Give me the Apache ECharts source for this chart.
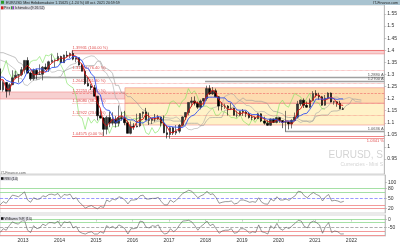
<!DOCTYPE html>
<html><head><meta charset="utf-8">
<script src="https://cdn.jsdelivr.net/npm/echarts@6/dist/echarts.min.js"></script>
<style>html,body{margin:0;padding:0;background:#fff}#c{width:400px;height:243px}</style>
</head><body><div id="c"></div>
<script>
const months = ("2012-05 2012-06 2012-07 2012-08 2012-09 2012-10 2012-11 2012-12 " +
"2013-01 2013-02 2013-03 2013-04 2013-05 2013-06 2013-07 2013-08 2013-09 2013-10 2013-11 2013-12 " +
"2014-01 2014-02 2014-03 2014-04 2014-05 2014-06 2014-07 2014-08 2014-09 2014-10 2014-11 2014-12 " +
"2015-01 2015-02 2015-03 2015-04 2015-05 2015-06 2015-07 2015-08 2015-09 2015-10 2015-11 2015-12 " +
"2016-01 2016-02 2016-03 2016-04 2016-05 2016-06 2016-07 2016-08 2016-09 2016-10 2016-11 2016-12 " +
"2017-01 2017-02 2017-03 2017-04 2017-05 2017-06 2017-07 2017-08 2017-09 2017-10 2017-11 2017-12 " +
"2018-01 2018-02 2018-03 2018-04 2018-05 2018-06 2018-07 2018-08 2018-09 2018-10 2018-11 2018-12 " +
"2019-01 2019-02 2019-03 2019-04 2019-05 2019-06 2019-07 2019-08 2019-09 2019-10 2019-11 2019-12 " +
"2020-01 2020-02 2020-03 2020-04 2020-05 2020-06 2020-07 2020-08 2020-09 2020-10 2020-11 2020-12 " +
"2021-01 2021-02 2021-03 2021-04 2021-05 2021-06 2021-07 2021-08 2021-09 2021-10").split(" ");
const futureMonths = ["2021-11","2021-12","2022-01","2022-02","2022-03","2022-04"];

const open = [1.3235,1.2365,1.2665,1.2302,1.2577,1.2860,1.2970,1.2990,
1.3194,1.3580,1.3056,1.2818,1.3169,1.2998,1.3010,1.3302,1.3222,1.3524,1.3584,1.3590,
1.3743,1.3484,1.3802,1.3770,1.3868,1.3633,1.3692,1.3389,1.3131,1.2630,1.2524,1.2450,
1.2100,1.1291,1.1196,1.0731,1.1224,1.0986,1.1147,1.0985,1.1213,1.1176,1.1004,1.0565,
1.0862,1.0831,1.0872,1.1380,1.1451,1.1131,1.1103,1.1173,1.1157,1.1240,1.0983,1.0590,
1.0517,1.0799,1.0575,1.0652,1.0895,1.1242,1.1426,1.1842,1.1906,1.1814,1.1646,1.1902,
1.2005,1.2414,1.2194,1.2324,1.2076,1.1693,1.1683,1.1690,1.1601,1.1604,1.1312,1.1317,
1.1467,1.1444,1.1372,1.1217,1.1215,1.1168,1.1371,1.1076,1.0986,1.0899,1.1152,1.1016,
1.1213,1.1093,1.1027,1.1031,1.0955,1.1100,1.1234,1.1778,1.1938,1.1722,1.1646,1.1927,
1.2216,1.2136,1.2074,1.1729,1.2020,1.2228,1.1858,1.1868,1.1809,1.1580];
const high = [1.3283,1.2748,1.2691,1.2637,1.3172,1.3140,1.3013,1.3308,
1.3586,1.3711,1.3120,1.3243,1.3242,1.3416,1.3346,1.3452,1.3569,1.3832,1.3620,1.3893,
1.3775,1.3824,1.3967,1.3906,1.3993,1.3700,1.3700,1.3444,1.3221,1.2887,1.2600,1.2570,
1.2110,1.1534,1.1243,1.1290,1.1466,1.1436,1.1278,1.1714,1.1460,1.1495,1.1096,1.1059,
1.0986,1.1376,1.1400,1.1464,1.1616,1.1428,1.1186,1.1366,1.1327,1.1255,1.1300,1.0874,
1.0829,1.0829,1.0906,1.0951,1.1268,1.1445,1.1846,1.2070,1.2092,1.1880,1.1961,1.2023,
1.2536,1.2556,1.2476,1.2414,1.2096,1.1852,1.1791,1.1734,1.1815,1.1626,1.1500,1.1486,
1.1570,1.1489,1.1448,1.1324,1.1265,1.1412,1.1393,1.1250,1.1109,1.1179,1.1176,1.1239,
1.1239,1.1097,1.1495,1.1038,1.1147,1.1422,1.1908,1.1966,1.2011,1.1880,1.2004,1.2310,
1.2349,1.2243,1.2113,1.2150,1.2266,1.2254,1.1909,1.1900,1.1909,1.1640];
const low = [1.2286,1.2288,1.2042,1.2134,1.2560,1.2803,1.2662,1.2925,
1.3038,1.3033,1.2745,1.2746,1.2796,1.2990,1.2755,1.3177,1.3105,1.3480,1.3295,1.3545,
1.3478,1.3477,1.3705,1.3672,1.3588,1.3503,1.3368,1.3133,1.2571,1.2501,1.2358,1.2098,
1.1098,1.1177,1.0458,1.0520,1.0819,1.0889,1.0809,1.0847,1.1087,1.0897,1.0558,1.0524,
1.0710,1.0810,1.0822,1.1217,1.1098,1.0912,1.0952,1.1046,1.1123,1.0852,1.0569,1.0352,
1.0341,1.0494,1.0495,1.0569,1.0838,1.1119,1.1312,1.1662,1.1717,1.1575,1.1554,1.1718,
1.1916,1.2153,1.2154,1.2055,1.1510,1.1508,1.1574,1.1301,1.1527,1.1302,1.1216,1.1269,
1.1289,1.1234,1.1176,1.1111,1.1106,1.1160,1.1028,1.0926,1.0879,1.0879,1.0989,1.0981,
1.1003,1.0778,1.0636,1.0727,1.0767,1.1096,1.1185,1.1696,1.1612,1.1622,1.1603,1.1925,
1.2054,1.1952,1.1704,1.1704,1.1986,1.1847,1.1752,1.1664,1.1563,1.1529];
const close = [1.2365,1.2665,1.2302,1.2577,1.2860,1.2970,1.2990,1.3194,
1.3580,1.3056,1.2818,1.3169,1.2998,1.3010,1.3302,1.3222,1.3524,1.3584,1.3590,1.3743,
1.3484,1.3802,1.3770,1.3868,1.3633,1.3692,1.3389,1.3131,1.2630,1.2524,1.2450,1.2100,
1.1291,1.1196,1.0731,1.1224,1.0986,1.1147,1.0985,1.1213,1.1176,1.1004,1.0565,1.0862,
1.0831,1.0872,1.1380,1.1451,1.1131,1.1103,1.1173,1.1157,1.1240,1.0983,1.0590,1.0517,
1.0799,1.0575,1.0652,1.0895,1.1242,1.1426,1.1842,1.1906,1.1814,1.1646,1.1902,1.2005,
1.2414,1.2194,1.2324,1.2076,1.1693,1.1683,1.1690,1.1601,1.1604,1.1312,1.1317,1.1467,
1.1444,1.1372,1.1217,1.1215,1.1168,1.1371,1.1076,1.0986,1.0899,1.1152,1.1016,1.1213,
1.1093,1.1027,1.1031,1.0955,1.1100,1.1234,1.1778,1.1938,1.1722,1.1646,1.1927,1.2216,
1.2136,1.2074,1.1729,1.2020,1.2228,1.1858,1.1868,1.1809,1.1580,1.15625];

const tenkan = [1.278,1.278,1.240,1.237,1.265,1.287,1.290,1.299,1.326,1.337,
1.323,1.299,1.299,1.311,1.309,1.310,1.334,1.347,1.356,1.359,
1.369,1.365,1.372,1.382,1.379,1.375,1.353,1.342,1.301,1.286,
1.262,1.235,1.183,1.160,1.100,1.087,1.099,1.114,1.112,1.126,
1.128,1.120,1.103,1.081,1.079,1.104,1.111,1.114,1.136,1.126,
1.117,1.116,1.121,1.109,1.093,1.083,1.061,1.059,1.070,1.072,
1.092,1.114,1.148,1.169,1.188,1.183,1.176,1.179,1.213,1.224,
1.235,1.227,1.196,1.180,1.168,1.155,1.156,1.156,1.142,1.136,
1.142,1.140,1.133,1.128,1.122,1.126,1.122,1.116,1.106,1.103,
1.103,1.111,1.111,1.101,1.107,1.107,1.094,1.109,1.150,1.158,
1.181,1.181,1.180,1.196,1.214,1.215,1.197,1.193,1.199,1.206,
1.200,1.179,1.174,1.172];
const kijun = [1.289,1.289,1.276,1.271,1.266,1.266,1.261,1.268,1.286,1.314,
1.319,1.319,1.323,1.323,1.323,1.310,1.316,1.329,1.329,1.332,
1.350,1.350,1.363,1.363,1.374,1.374,1.368,1.356,1.328,1.325,
1.303,1.290,1.227,1.216,1.167,1.153,1.151,1.128,1.100,1.109,
1.112,1.126,1.114,1.112,1.112,1.101,1.101,1.099,1.107,1.116,
1.121,1.122,1.126,1.123,1.100,1.086,1.085,1.083,1.082,1.082,
1.080,1.089,1.117,1.128,1.133,1.147,1.161,1.170,1.205,1.206,
1.206,1.206,1.203,1.203,1.203,1.189,1.186,1.170,1.153,1.152,
1.152,1.152,1.140,1.134,1.134,1.134,1.126,1.119,1.115,1.115,
1.115,1.114,1.106,1.101,1.107,1.107,1.107,1.107,1.127,1.130,
1.137,1.139,1.155,1.175,1.198,1.198,1.198,1.198,1.203,1.203,
1.199,1.197,1.199,1.199];
// Senkou spans as plotted (May 2012 .. Apr 2022)
const spanA = [1.360,1.355,1.350,1.340,1.330,1.320,
1.284,1.284,1.258,1.254,1.266,1.277,1.276,1.284,1.306,1.326,
1.321,1.309,1.311,1.317,1.316,1.310,1.325,1.338,1.343,1.346,
1.360,1.358,1.368,1.373,1.377,1.375,1.361,1.349,1.315,1.306,
1.283,1.263,1.205,1.188,1.134,1.120,1.125,1.121,1.106,1.118,
1.120,1.123,1.109,1.097,1.096,1.103,1.106,1.107,1.122,1.121,
1.119,1.119,1.124,1.116,1.097,1.085,1.073,1.071,1.076,1.077,
1.086,1.102,1.133,1.149,1.161,1.165,1.169,1.175,1.209,1.215,
1.221,1.217,1.200,1.192,1.186,1.172,1.171,1.163,1.148,1.144,
1.147,1.146,1.137,1.131,1.128,1.130,1.124,1.118,1.111,1.109,
1.109,1.113,1.109,1.101,1.107,1.107,1.101,1.108,1.139,1.144,
1.159,1.160,1.168,1.186,1.206,1.207,1.198,1.196,1.201,1.205,
1.200,1.188,1.187,1.186];
const spanB = [1.390,1.390,1.385,1.380,1.375,1.370,
1.350,1.345,1.330,1.320,1.300,1.290,1.280,1.280,1.290,1.290,
1.290,1.288,1.288,1.288,1.292,1.314,1.319,1.325,1.329,1.332,
1.332,1.332,1.336,1.336,1.337,1.337,1.355,1.355,1.328,1.325,
1.318,1.305,1.255,1.255,1.223,1.223,1.208,1.208,1.195,1.184,
1.167,1.153,1.151,1.128,1.109,1.109,1.112,1.112,1.112,1.112,
1.112,1.107,1.107,1.107,1.107,1.098,1.098,1.098,1.098,1.098,
1.088,1.089,1.109,1.121,1.122,1.122,1.122,1.122,1.152,1.153,
1.156,1.170,1.184,1.193,1.203,1.193,1.193,1.193,1.189,1.189,
1.189,1.185,1.180,1.160,1.148,1.146,1.142,1.137,1.125,1.122,
1.122,1.122,1.118,1.111,1.107,1.107,1.107,1.107,1.127,1.130,
1.132,1.132,1.132,1.147,1.149,1.149,1.154,1.156,1.172,1.177,
1.198,1.198,1.196,1.194];

const rsi = [30,40,35,48,60,58,55,62,
70,45,38,52,47,48,58,55,62,63,60,65,
52,62,60,63,48,52,38,30,20,25,28,22,
18,25,22,45,40,48,45,55,52,45,33,45,
45,47,58,60,48,48,50,50,53,40,30,30,
45,38,45,55,65,70,75,72,62,52,58,62,
72,62,64,52,35,38,40,40,42,33,35,45,
45,42,38,40,38,52,38,33,32,48,42,55,
45,45,48,44,52,58,72,70,58,52,62,68,
62,58,42,55,62,42,44,42,38,41];
const willr = [-85,-60,-70,-40,-15,-25,-30,-10,
-5,-70,-85,-40,-60,-55,-30,-40,-20,-20,-25,-10,
-45,-15,-20,-15,-55,-45,-80,-90,-95,-85,-80,-95,
-95,-80,-90,-40,-55,-45,-60,-35,-45,-60,-95,-60,
-60,-55,-10,-15,-50,-55,-40,-45,-35,-75,-95,-90,
-60,-80,-65,-35,-10,-8,-5,-15,-40,-70,-45,-30,
-10,-40,-30,-60,-90,-75,-70,-70,-60,-90,-85,-60,
-60,-70,-90,-80,-85,-35,-80,-85,-95,-40,-60,-25,
-60,-70,-50,-60,-40,-25,-5,-10,-45,-55,-20,-10,
-20,-35,-90,-45,-20,-85,-75,-80,-95,-94.123];

// Fibonacci retracement (anchored at the May 2014 high)
const fibStart = 2014.35;
const fibLevels = [1.39931,1.31584,1.26426,1.22253,1.18080,1.12922,1.04575];
const fibPct = ["100.00","76.40","61.80","50.00","38.20","23.60","0.00"];
const fibStyle = ["solid","dotted","dotted","dashed","dotted","dotted","solid"];
// zones [x0, x1, lowPrice, highPrice, fill]
const zones = [
  [2014.35, 2022.92, 1.3850, 1.39931, "#f8d0d0"],
  [2012.37, 2015.80, 1.1985, 1.2275, "#f7d0d0"],
  [2015.80, 2022.92, 1.1808, 1.2450, "#fddcb0"],
  [2015.80, 2022.92, 1.0910, 1.1808, "#fff2c8"]
];
const grayLevels = [[2013.30, 1.2880], [2018.00, 1.2700], [2020.20, 1.0636]];
const redLevels = [[2017.05, 1.0341]];
const yearTicks = [2013,2014,2015,2016,2017,2018,2019,2020,2021,2022];
const priceTicks = [0.95,1,1.05,1.1,1.15,1.2,1.25,1.3,1.35,1.4,1.45,1.5,1.55];
const lastPrice = 1.15625, lastTenkan = 1.17238, lastKijun = 1.19902;
const rsiLevels = [[80,"#8ed88e","solid"],[70,"#8ed88e","solid"],[50,"#8080ff","dashed"],[30,"#f08080","solid"],[20,"#f08080","solid"]];
const wrLevels = [[0,"#8ed88e","solid"],[-20,"#8ed88e","solid"],[-50,"#999","dashed"],[-80,"#f08080","solid"],[-100,"#f08080","solid"]];

const XMIN = 2012.37, XMAX = 2022.92;
function mt(s){const p=s.split("-");return +p[0]+(+p[1]-0.5)/12;}

const candleData = months.map((m,i)=>[mt(m),open[i],close[i],low[i],high[i]]);
const tenkanData = months.map((m,i)=>[mt(m),tenkan[i]]);
const kijunData = months.map((m,i)=>[mt(m),kijun[i]]);
const chikouData = months.map((m,i)=>[mt(m)-0.5,close[i]]).filter(p=>p[0]>=XMIN);
const cloudMonths = months.concat(futureMonths);
const cloudAData = cloudMonths.map((m,i)=>[mt(m),spanA[i]]);
const cloudBData = cloudMonths.map((m,i)=>[mt(m),spanB[i]]);
const cloudBase = cloudMonths.map((m,i)=>[mt(m),Math.min(spanA[i],spanB[i])]);
const cloudBand = cloudMonths.map((m,i)=>[mt(m),Math.abs(spanA[i]-spanB[i])]);
const rsiData = months.map((m,i)=>[mt(m),rsi[i]]);
const wrData = months.map((m,i)=>[mt(m),willr[i]]);

const FONT = "Liberation Sans";
const chart = echarts.init(document.getElementById("c"), null, {renderer:"canvas"});

function xAx(gi, show){
  return {type:"value", gridIndex:gi, min:XMIN, max:XMAX,
    axisLine:{show:false}, splitLine:{show:false},
    axisTick:{show:show, customValues:yearTicks, length:2, lineStyle:{color:"#999",width:0.5}},
    axisLabel:{show:show, customValues:yearTicks, fontSize:5, color:"#333", margin:2, fontFamily:FONT, formatter:v=>String(v)}};
}
function yAx(gi, min, max, ticks, fmt){
  return {type:"value", gridIndex:gi, position:"right", min:min, max:max, scale:true,
    axisLine:{show:true, lineStyle:{color:"#999",width:0.5}}, splitLine:{show:false},
    axisTick:{show:true, customValues:ticks, length:2, lineStyle:{color:"#999",width:0.5}},
    axisLabel:{customValues:ticks, fontSize:5, color:"#333", margin:3, fontFamily:FONT, formatter:fmt||(v=>String(+v.toFixed(2)))}};
}
function hLine(v, color, type, width){
  return {yAxis:v, lineStyle:{color:color, type:type, width:width||0.6}, label:{show:false}};
}
function valueTag(v, text, bg, fg){
  return {yAxis:v, lineStyle:{width:0, opacity:0}, label:{show:true, position:"end", formatter:text,
    backgroundColor:bg, color:fg||"#000", fontSize:4.5, padding:[0.5,1,0,1], distance:1, fontFamily:FONT}};
}

const fibLines = fibLevels.map((v,i)=>[
  {coord:[fibStart,v], lineStyle:{color:"#ee6666", type:fibStyle[i], width:i===0||i===6?0.8:0.6},
   label:{show:true, position:"insideStartTop", formatter:v.toFixed(5)+" ("+fibPct[i]+" %)", color:"#e05050", fontSize:4, distance:0.5, fontFamily:FONT}},
  {coord:[XMAX,v]}
]);
const fibRight = fibLevels.map(v=>[
  {coord:[XMAX-0.8,v], lineStyle:{width:0,opacity:0},
   label:{show:true, position:"insideEndTop", formatter:v.toFixed(5)+" %", color:"#e05050", fontSize:4, distance:0.5, fontFamily:FONT}},
  {coord:[XMAX,v]}
]);
const grayLines = grayLevels.map(g=>[
  {coord:[g[0],g[1]], lineStyle:{color:"#a0a0a0", width:1.4, type:"solid"},
   label:{show:true, position:"insideEndTop", formatter:g[1].toFixed(4)+" A", color:"#555", fontSize:4, distance:0.5, fontFamily:FONT}},
  {coord:[XMAX,g[1]]}
]);
const redLines = redLevels.map(g=>[
  {coord:[g[0],g[1]], lineStyle:{color:"#f08080", width:0.8, type:"solid"},
   label:{show:true, position:"insideEndBottom", formatter:g[1].toFixed(4)+" %", color:"#e05050", fontSize:4, distance:0.5, fontFamily:FONT}},
  {coord:[XMAX,g[1]]}
]);
const zoneAreas = zones.map(z=>[
  {coord:[z[0],z[3]], itemStyle:{color:z[4], borderColor:"#f08a8a", borderWidth:0.6}},
  {coord:[z[1],z[2]]}
]);

const option = {
  animation:false,
  backgroundColor:"#fff",
  grid:[
    {left:0, right:15, top:5, height:169, show:true, borderColor:"#aaa", borderWidth:0.5},
    {left:0, right:15, top:175, height:38, show:true, borderColor:"#aaa", borderWidth:0.5},
    {left:0, right:15, top:215, height:22, show:true, borderColor:"#aaa", borderWidth:0.5}
  ],
  xAxis:[xAx(0,false), xAx(1,false), xAx(2,true)],
  yAxis:[
    yAx(0, 0.8883, 1.5872, priceTicks),
    yAx(1, 5, 122, [100,80,50,20], v=>String(v)),
    yAx(2, -108, 30, [0,-50], v=>String(v))
  ],
  graphic:[
    {type:"rect", left:0, top:0, shape:{width:400, height:5}, style:{fill:"#a9c3d0"}, z:100},
    {type:"rect", left:1, top:0.8, shape:{width:3, height:3}, style:{fill:"#2a9a2a"}, z:101},
    {type:"text", left:6, top:0.6, style:{text:"EUR/USD Mini Hebdomadaire 1.15625 (-1.24 %) 08 oct. 2021 20:59:59", fontSize:3.6, fill:"#222", fontFamily:FONT}, z:101},
    {type:"text", right:2, top:0.6, style:{text:"IT-Finance.com", fontSize:3.6, fill:"#222", fontFamily:FONT}, z:101},
    {type:"rect", left:0, top:5.5, shape:{width:44, height:4.5}, style:{fill:"#dcdce4"}, z:100},
    {type:"rect", left:1, top:6.3, shape:{width:2.5, height:3}, style:{fill:"#d02020"}, z:101},
    {type:"rect", left:11, top:6.3, shape:{width:1.5, height:3}, style:{fill:"#3a9a3a"}, z:101},
    {type:"rect", left:12.5, top:6.3, shape:{width:1.5, height:3}, style:{fill:"#9040c0"}, z:101},
    {type:"text", left:4, top:6.2, style:{text:"Prix", fontSize:3.6, fill:"#222", fontFamily:FONT}, z:101},
    {type:"text", left:15, top:6.2, style:{text:"Ichimoku (9 26 52)", fontSize:3.6, fill:"#222", fontFamily:FONT}, z:101},
    {type:"text", right:17, top:150, style:{text:"EURUSD, S", fontSize:10, fill:"#d4d4d4", fontFamily:FONT}, z:1},
    {type:"text", right:17, top:162, style:{text:"Currencies - Mini S", fontSize:5, fill:"#d4d4d4", fontFamily:FONT}, z:1},
    {type:"text", left:1, top:171, style:{text:"IT-Finance.com", fontSize:3.6, fill:"#666", fontFamily:FONT}, z:101},
    {type:"rect", left:0, top:176.5, shape:{width:17, height:4}, style:{fill:"#dcdce4"}, z:100},
    {type:"rect", left:1, top:177.2, shape:{width:2.5, height:2.6}, style:{fill:"#111"}, z:101},
    {type:"text", left:4.5, top:177, style:{text:"RSI (14)", fontSize:3.6, fill:"#222", fontFamily:FONT}, z:101},
    {type:"rect", left:0, top:216.5, shape:{width:30, height:4}, style:{fill:"#dcdce4"}, z:100},
    {type:"rect", left:1, top:217.2, shape:{width:2.5, height:2.6}, style:{fill:"#111"}, z:101},
    {type:"text", left:4.5, top:217, style:{text:"Williams %R (14)", fontSize:3.6, fill:"#222", fontFamily:FONT}, z:101}
  ],
  series:[
    {type:"line", name:"zones", xAxisIndex:0, yAxisIndex:0, data:[], z:0, silent:true,
     markArea:{silent:true, data:zoneAreas}},
    {type:"line", name:"cloudBase", xAxisIndex:0, yAxisIndex:0, data:cloudBase, stack:"cloud", symbol:"none",
     lineStyle:{opacity:0}, z:1, silent:true},
    {type:"line", name:"cloudBand", xAxisIndex:0, yAxisIndex:0, data:cloudBand, stack:"cloud", symbol:"none",
     lineStyle:{opacity:0}, areaStyle:{color:"#cfcfcf", opacity:0.65}, z:1, silent:true},
    {type:"line", name:"spanA", xAxisIndex:0, yAxisIndex:0, data:cloudAData, symbol:"none",
     lineStyle:{color:"#aaa", width:0.6}, z:2, silent:true},
    {type:"line", name:"spanB", xAxisIndex:0, yAxisIndex:0, data:cloudBData, symbol:"none",
     lineStyle:{color:"#999", width:0.6}, z:2, silent:true},
    {type:"line", name:"levels", xAxisIndex:0, yAxisIndex:0, data:[], z:3, silent:true,
     markLine:{symbol:"none", silent:true, data:fibLines.concat(fibRight, grayLines, redLines)}},
    {type:"line", name:"chikou", xAxisIndex:0, yAxisIndex:0, data:chikouData, symbol:"none",
     lineStyle:{color:"#7be35a", width:0.6}, z:4, silent:true},
    {type:"candlestick", name:"EURUSD", xAxisIndex:0, yAxisIndex:0, data:candleData, barWidth:2, z:5,
     itemStyle:{color:"#333333", color0:"#000000", borderColor:"#222222", borderColor0:"#000000", borderWidth:0.6}},
    {type:"line", name:"tenkan", xAxisIndex:0, yAxisIndex:0, data:tenkanData, symbol:"none",
     lineStyle:{color:"#e01010", width:0.9}, z:6, silent:true},
    {type:"line", name:"kijun", xAxisIndex:0, yAxisIndex:0, data:kijunData, symbol:"none",
     lineStyle:{color:"#3050f0", width:0.9}, z:6, silent:true,
     markLine:{symbol:"none", silent:true, data:[
       valueTag(lastKijun, lastKijun.toFixed(5), "#c8d0ff", "#2030c0"),
       valueTag(lastTenkan, lastTenkan.toFixed(5), "#ffd0d0", "#c02020"),
       valueTag(lastPrice, lastPrice.toFixed(5), "#f5d23c", "#000")]}},
    {type:"line", name:"rsi", xAxisIndex:1, yAxisIndex:1, data:rsiData, symbol:"none",
     lineStyle:{color:"#555", width:0.6}, z:5, silent:true,
     markLine:{symbol:"none", silent:true, data:rsiLevels.map(l=>hLine(l[0],l[1],l[2],0.8)).concat([valueTag(41,"41.000","#e8e8e8","#000")])}},
    {type:"line", name:"willr", xAxisIndex:2, yAxisIndex:2, data:wrData, symbol:"none",
     lineStyle:{color:"#555", width:0.6}, z:5, silent:true,
     markLine:{symbol:"none", silent:true, data:wrLevels.map(l=>hLine(l[0],l[1],l[2],0.8)).concat([valueTag(-94.123,"-94.123","#e8e8e8","#000")])}}
  ]
};
chart.setOption(option);
</script></body></html>
